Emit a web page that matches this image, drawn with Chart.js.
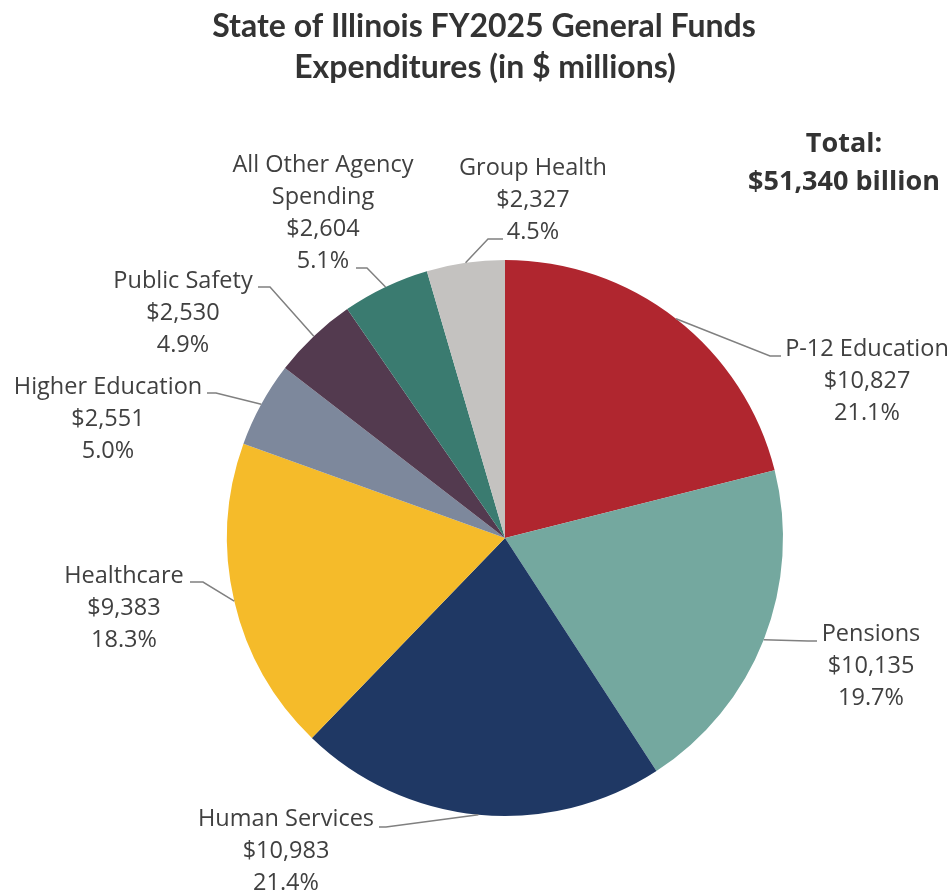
<!DOCTYPE html>
<html lang="en">
<head>
    <meta charset="UTF-8">
    <title>Illinois FY2025 General Funds</title>
    <script src="https://cdn.jsdelivr.net/npm/chart.js"></script>
    <style>
        body { margin: 0; background: #fff; }
    </style>
</head>
<body>
    <div style="width:952px; height:895px;">
        <canvas id="grafico"></canvas>
    </div>

    <script>
        // data
        const categories = ["P-12 Education", "Pensions", "Human Services", "Healthcare",
            "Higher Education", "Public Safety", ["All Other Agency", "Spending"], "Group Health"]
        const amounts = [10827, 10135, 10983, 9383, 2551, 2530, 2604, 2327]
        const colors = ["#B0262F", "#74A89F", "#1F3864", "#F5BB2A", "#7D889C", "#533A4F", "#3A7B70", "#C4C2C0"]
        const titleLines = ["State of Illinois FY2025 General Funds", "Expenditures (in $ millions)"]
        const totalLines = ["Total:", "$51,340 billion"]

        // where each label sits (first baseline) and where its leader bends
        const labelLayout = [
            { x: 867, y: 356, elbow: [770, 356], endX: 781 },
            { x: 871, y: 641, elbow: [808, 641], endX: 817 },
            { x: 286, y: 826, elbow: [386, 827], endX: 379 },
            { x: 124, y: 583, elbow: [203, 582], endX: 190 },
            { x: 108, y: 394, elbow: [216, 393], endX: 207 },
            { x: 183, y: 288, elbow: [270, 287], endX: 258 },
            { x: 323, y: 172, elbow: [367, 268], endX: 356 },
            { x: 533, y: 175, elbow: [488, 239], endX: 503 }
        ]

        const total = amounts.reduce((a, b) => a + b, 0)
        const fmt = v => "$" + v.toLocaleString("en-US")
        const pct = v => (v / total * 100).toFixed(1) + "%"

        const textPlugin = {
            id: "textPlugin",
            afterDraw(chart) {
                const c = chart.ctx
                c.save()

                // title
                c.fillStyle = "#333333"
                c.font = "bold 32px Lato"
                c.textAlign = "center"
                c.textBaseline = "alphabetic"
                c.fillText(titleLines[0], 484, 37)
                c.fillText(titleLines[1], 485, 78)

                // total
                c.font = "bold 27px 'Open Sans'"
                c.fillText(totalLines[0], 844, 152)
                c.fillText(totalLines[1], 844, 190)

                // leaders + labels
                const arcs = chart.getDatasetMeta(0).data
                arcs.forEach((arc, i) => {
                    const lay = labelLayout[i]
                    const p = arc.getProps(["x", "y", "startAngle", "endAngle", "outerRadius"], true)
                    const mid = (p.startAngle + p.endAngle) / 2
                    const sx = p.x + Math.cos(mid) * p.outerRadius
                    const sy = p.y + Math.sin(mid) * p.outerRadius

                    c.strokeStyle = "#808080"
                    c.lineWidth = 1.5
                    c.beginPath()
                    c.moveTo(sx, sy)
                    c.lineTo(lay.elbow[0], lay.elbow[1])
                    c.lineTo(lay.endX, lay.elbow[1])
                    c.stroke()

                    const name = Array.isArray(categories[i]) ? categories[i] : [categories[i]]
                    const lines = name.concat([fmt(amounts[i]), pct(amounts[i])])
                    c.fillStyle = "#404040"
                    c.font = "23.5px 'Open Sans'"
                    c.textAlign = "center"
                    lines.forEach((t, k) => c.fillText(t, lay.x, lay.y + k * 32))
                })
                c.restore()
            }
        }

        const ctx = document.getElementById("grafico")
        const grafico = new Chart(ctx, {
            type: "pie",
            data: {
                labels: categories,
                datasets: [{
                    data: amounts,
                    backgroundColor: colors,
                    borderWidth: 0
                }]
            },
            options: {
                responsive: true,
                maintainAspectRatio: false,
                animation: false,
                layout: {
                    padding: { left: 227, right: 169, top: 260, bottom: 79 }
                },
                plugins: {
                    legend: { display: false },
                    tooltip: { enabled: false }
                }
            },
            plugins: [textPlugin]
        })
    </script>
</body>
</html>
